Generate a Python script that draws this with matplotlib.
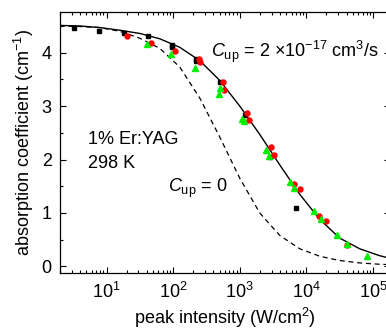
import numpy as np
import matplotlib
matplotlib.use("Agg")
import matplotlib.pyplot as plt
from matplotlib.ticker import LogLocator, MultipleLocator, NullFormatter

plt.rcParams['font.family'] = ['Liberation Sans', 'DejaVu Sans']
plt.rcParams['mathtext.fontset'] = 'custom'
plt.rcParams['mathtext.rm'] = 'Liberation Sans'
plt.rcParams['mathtext.it'] = 'Liberation Sans:italic'

# Black squares
sq_I = [3.3, 7.8, 18.2, 41.7, 96.6, 96.6, 224, 224, 513, 1216, 2884, 7080]
sq_a = [4.46, 4.41, 4.36, 4.32, 4.14, 4.11, 3.89, 3.84, 3.46, 2.83, 2.04, 1.10]

# Red circles
rc_I = [20, 46.8, 108, 246, 251, 562, 589, 1288, 1380, 2951, 3236, 6607, 7943, 15310, 19500, 40700]
rc_a = [4.32, 4.19, 4.04, 3.89, 3.83, 3.45, 3.31, 2.88, 2.74, 2.24, 2.09, 1.55, 1.45, 0.94, 0.85, 0.40]

# Green triangles
gt_I = [39.8, 93.3, 216, 484, 501, 1084, 1175, 2483, 2754, 5623, 6607, 12882, 16596, 28840, 40700, 81280]
gt_a = [4.17, 3.97, 3.71, 3.23, 3.33, 2.75, 2.72, 2.17, 2.07, 1.58, 1.46, 1.04, 0.88, 0.59, 0.42, 0.19]

# Model curve with upconversion (log10 intensity, absorption)
fit_logI = [0.3, 0.6, 0.9, 1.2, 1.5, 1.8, 2.1, 2.4, 2.7, 3.0, 3.3, 3.6, 3.9, 4.2, 4.5, 4.8, 5.1, 5.3]
fit_a = [4.51, 4.50, 4.47, 4.42, 4.36, 4.26, 4.10, 3.85, 3.48, 3.00, 2.47, 1.90, 1.35, 0.88, 0.53, 0.33, 0.20, 0.14]

# Model curve without upconversion
nocup_logI = [0.3, 0.6, 0.9, 1.2, 1.5, 1.8, 2.1, 2.4, 2.7, 3.0, 3.3, 3.6, 3.9, 4.2, 4.5, 4.8, 5.1, 5.3]
nocup_a = [4.50, 4.49, 4.47, 4.40, 4.27, 4.08, 3.73, 3.15, 2.42, 1.65, 1.00, 0.58, 0.33, 0.19, 0.11, 0.065, 0.04, 0.03]

fig = plt.figure(figsize=(3.86, 3.31), dpi=100)
ax = fig.add_axes([0.1554, 0.175, 0.855, 0.7885])

ax.plot(10 ** np.array(fit_logI), fit_a, color='black', lw=1.0)
ax.plot(10 ** np.array(nocup_logI), nocup_a, color='black', lw=0.9, ls=(0, (4, 3)))
ax.plot(sq_I, sq_a, ls='none', marker='s', ms=3.2, color='black', mec='black')
ax.plot(rc_I, rc_a, ls='none', marker='o', ms=3.6, color='#ff0000', mec='#ff0000')
ax.plot(gt_I, gt_a, ls='none', marker='^', ms=3.8, color='#00ee00', mec='#00ee00')

ax.set_xscale('log')
ax.set_xlim(2, 1.8e5)
ax.set_ylim(-0.125, 4.76)
ax.xaxis.set_major_locator(LogLocator(base=10, numticks=10))
ax.xaxis.set_minor_locator(LogLocator(base=10, subs=np.arange(2, 10), numticks=20))
ax.xaxis.set_minor_formatter(NullFormatter())
ax.yaxis.set_major_locator(MultipleLocator(1))
ax.yaxis.set_minor_locator(MultipleLocator(0.5))

ax.tick_params(which='both', direction='in', top=True, right=True, labelsize=13, width=0.8)
ax.tick_params(which='major', length=4.5, pad=6)
ax.tick_params(which='minor', length=2.5)
for s in ax.spines.values():
    s.set_linewidth(0.9)

ax.set_xlabel('peak intensity (W/cm$^2$)', fontsize=13, labelpad=3)
ax.set_ylabel('absorption coefficient (cm$^{-1}$)', fontsize=13, labelpad=4)

ax.text(0.085, 0.51, '1% Er:YAG', transform=ax.transAxes, fontsize=13, va='center', ha='left')
ax.text(0.085, 0.42, '298 K', transform=ax.transAxes, fontsize=13, va='center', ha='left')
ax.text(0.327, 0.326, r'$\mathit{C}_{\mathrm{up}}$ = 0', transform=ax.transAxes, fontsize=13, va='center', ha='left')
ax.text(0.458, 0.847, r'$\mathit{C}_{\mathrm{up}}$ = 2 ×10$^{-17}$ cm$^3$/s', transform=ax.transAxes,
        fontsize=13, va='center', ha='left')

fig.savefig('out.png', dpi=100)
